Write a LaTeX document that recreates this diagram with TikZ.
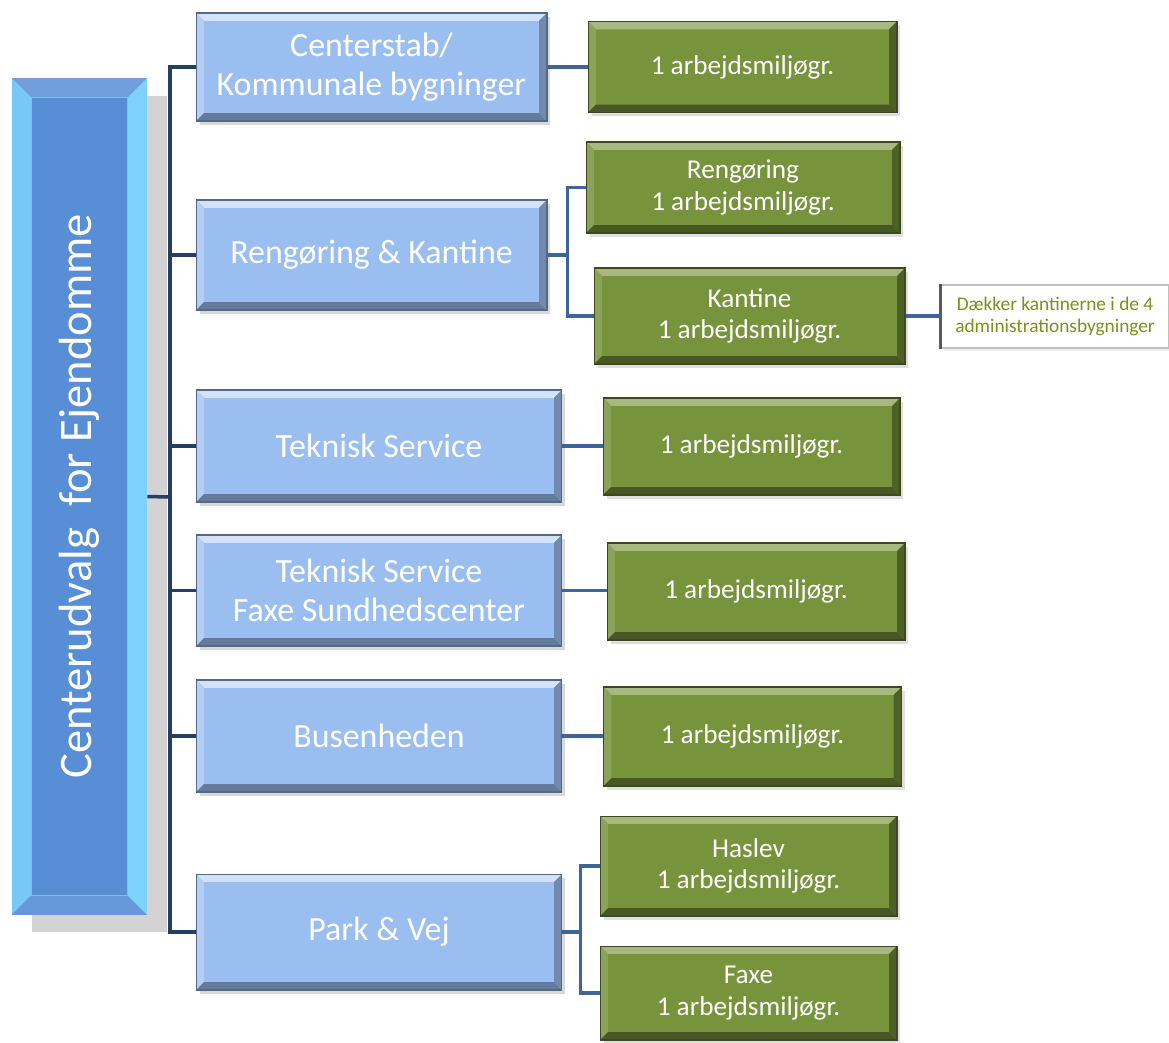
\documentclass[tikz,border=0pt]{standalone}
\usepackage{fontspec}
\setmainfont{Carlito}
\usepackage{tikz}
\usetikzlibrary{positioning, calc, shadows}
\definecolor{rootblue}{RGB}{88,142,214}
\definecolor{rootedge}{RGB}{125,210,252}
\definecolor{unitblue}{RGB}{155,190,240}
\definecolor{grpgreen}{RGB}{119,147,60}
\definecolor{linkblue}{RGB}{62,100,152}
\definecolor{trunkblue}{RGB}{38,62,100}
\definecolor{notetext}{RGB}{125,142,35}

% bevel: width, top, left, bottom, right
\newcommand{\bevel}[5]{%
  \coordinate (bnw) at (path picture bounding box.north west);
  \coordinate (bne) at (path picture bounding box.north east);
  \coordinate (bsw) at (path picture bounding box.south west);
  \coordinate (bse) at (path picture bounding box.south east);
  \fill[#2] (bnw) -- (bne) -- ([shift={(-#1,-#1)}]bne) -- ([shift={(#1,-#1)}]bnw) -- cycle;
  \fill[#3] (bnw) -- (bsw) -- ([shift={(#1,#1)}]bsw) -- ([shift={(#1,-#1)}]bnw) -- cycle;
  \fill[#4] (bsw) -- (bse) -- ([shift={(-#1,#1)}]bse) -- ([shift={(#1,#1)}]bsw) -- cycle;
  \fill[#5] (bne) -- (bse) -- ([shift={(-#1,#1)}]bse) -- ([shift={(-#1,-#1)}]bne) -- cycle;
}

\begin{document}
\begin{tikzpicture}[
    x=0.02cm, y=-0.02cm,
    unitbox/.style={draw=unitblue!55!black, line width=0.6pt, fill=unitblue, text=white, align=center,
        font=\fontsize{19.3}{22}\selectfont, minimum width=7.32cm, minimum height=2.22cm,
        path picture={\bevel{4.5pt}{white!55!unitblue}{white!25!unitblue}{unitblue!65!black}{unitblue!72!black}},
        drop shadow={opacity=.3, shadow xshift=2pt, shadow yshift=-2pt}},
    grpbox/.style={draw=grpgreen!50!black, line width=0.6pt, fill=grpgreen, text=white, align=center,
        font=\fontsize{15.5}{18}\selectfont, minimum width=5.96cm, minimum height=1.94cm,
        path picture={\bevel{4.5pt}{white!35!grpgreen}{white!15!grpgreen}{grpgreen!60!black}{grpgreen!65!black}},
        drop shadow={opacity=.25, shadow xshift=2pt, shadow yshift=-2pt}},
    notebox/.style={draw=gray!50, line width=0.6pt, fill=white, text=notetext, align=center, inner sep=2pt,
        font=\fontsize{11}{12.4}\selectfont, minimum width=4.56cm, minimum height=1.26cm,
        drop shadow={opacity=.15, shadow xshift=1.5pt, shadow yshift=-1.5pt}},
    link/.style={draw=linkblue, line width=2pt},
    trunk/.style={draw=trunkblue, line width=2pt}
]
    \useasboundingbox (0,0) rectangle (1169,1042);

    % root
    \node[fill=rootblue, minimum width=2.7cm, minimum height=16.74cm, inner sep=0pt, text=white,
        font=\fontsize{26.5}{30}\selectfont,
        drop shadow={opacity=.35, shadow xshift=0.4cm, shadow yshift=-0.35cm},
        path picture={\bevel{11pt}{rootblue!85!white}{rootedge!85!rootblue}{rootblue!92!white}{rootedge}
            \draw[rootedge!75!rootblue, line width=0.7pt] ([shift={(11pt,-11pt)}]bnw) rectangle ([shift={(-11pt,11pt)}]bse);}]
        (root) at (79.5,496.5) {\rotatebox{90}{Centerudvalg\ \ for Ejendomme}};

    % units
    \node[unitbox, minimum width=7.02cm, minimum height=2.16cm] (stab) at (371.5,67) {Centerstab/\\Kommunale bygninger};
    \node[unitbox, minimum width=7.02cm, minimum height=2.2cm] (reng) at (371.5,255) {Rengøring \& Kantine};
    \node[unitbox, minimum height=2.24cm] (tekn) at (379,446) {Teknisk Service};
    \node[unitbox] (tfaxe) at (379,590.5) {Teknisk Service\\Faxe Sundhedscenter};
    \node[unitbox, minimum height=2.24cm] (bus) at (379,736) {Busenheden};
    \node[unitbox, minimum height=2.32cm] (park) at (379,932) {Park \& Vej};

    % groups
    \node[grpbox, minimum width=6.18cm, minimum height=1.82cm] (gstab) at (742.5,67) {1 arbejdsmiljøgr.};
    \node[grpbox, minimum width=6.28cm, minimum height=1.82cm] (greng) at (743,187.5) {Rengøring\\1 arbejdsmiljøgr.};
    \node[grpbox, minimum width=6.22cm, minimum height=1.92cm] (gkant) at (749.5,316) {Kantine\\1 arbejdsmiljøgr.};
    \node[grpbox, minimum width=5.94cm] (gtekn) at (751.5,446.5) {1 arbejdsmiljøgr.};
    \node[grpbox] (gfaxe) at (756,591.5) {1 arbejdsmiljøgr.};
    \node[grpbox, minimum height=1.98cm] (gbus) at (752.5,736.5) {1 arbejdsmiljøgr.};
    \node[grpbox, minimum width=5.94cm, minimum height=2cm] (ghas) at (748.5,866) {Haslev\\1 arbejdsmiljøgr.};
    \node[grpbox, minimum width=5.94cm, minimum height=1.88cm] (gfx) at (748.5,993) {Faxe\\1 arbejdsmiljøgr.};

    \node[notebox] (note) at (1055,316.5) {Dækker kantinerne i de 4\\administrationsbygninger};
    \draw[gray!70!black, line width=1.6pt] (note.north west) -- (note.south west);

    % connectors
    \coordinate (fork) at (170,497);
    \draw[trunk] (root.east) -- (fork);
    \foreach \b in {stab,reng,tekn,tfaxe,bus,park}
        \draw[trunk] (fork) |- (\b.west);
    \foreach \a/\b in {stab/gstab, tekn/gtekn, tfaxe/gfaxe, bus/gbus, gkant/note}
        \draw[link] (\a.east) -- (\a.east -| \b.west);
    \draw[link] (reng.east) -- ++(20,0) |- (greng.west);
    \draw[link] (reng.east) -- ++(20,0) |- (gkant.west);
    \draw[link] (park.east) -- ++(18,0) |- (ghas.west);
    \draw[link] (park.east) -- ++(18,0) |- (gfx.west);
\end{tikzpicture}
\end{document}
